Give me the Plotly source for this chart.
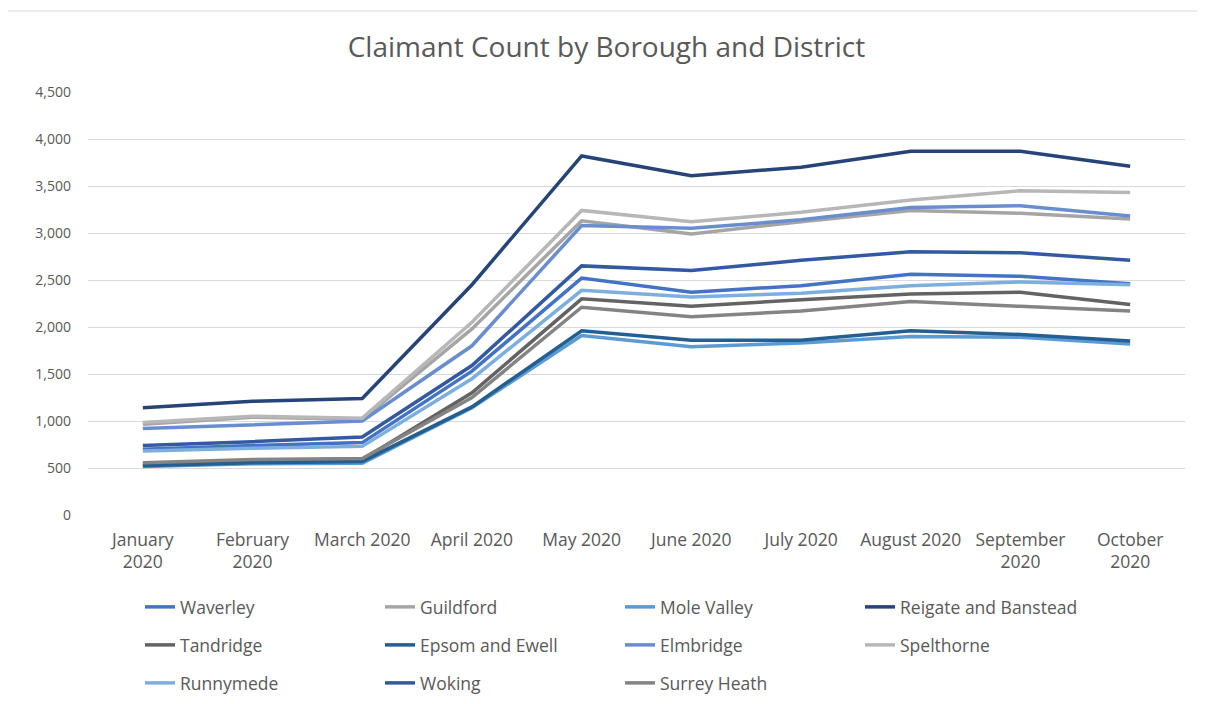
import plotly.graph_objects as go

months = ["January 2020", "February 2020", "March 2020", "April 2020", "May 2020",
          "June 2020", "July 2020", "August 2020", "September 2020", "October 2020"]
tick_text = ["January<br>2020", "February<br>2020", "March 2020", "April 2020", "May 2020",
             "June 2020", "July 2020", "August 2020", "September<br>2020", "October<br>2020"]

waverley = [700, 740, 770, 1530, 2520, 2370, 2440, 2560, 2540, 2460]
guildford = [965, 1040, 1020, 1980, 3130, 2990, 3120, 3240, 3210, 3150]
mole_valley = [515, 545, 550, 1140, 1910, 1790, 1830, 1900, 1890, 1820]
reigate = [1140, 1210, 1240, 2450, 3820, 3610, 3700, 3870, 3870, 3710]
tandridge = [540, 580, 590, 1300, 2300, 2220, 2290, 2350, 2370, 2240]
epsom = [525, 555, 570, 1150, 1960, 1860, 1860, 1960, 1920, 1850]
elmbridge = [920, 960, 1000, 1800, 3080, 3050, 3140, 3270, 3290, 3180]
spelthorne = [985, 1050, 1030, 2050, 3240, 3120, 3220, 3350, 3450, 3430]
runnymede = [680, 710, 730, 1450, 2390, 2320, 2360, 2440, 2480, 2450]
woking = [740, 780, 830, 1590, 2650, 2600, 2710, 2800, 2790, 2710]
surrey_heath = [555, 590, 600, 1250, 2210, 2110, 2170, 2270, 2220, 2170]

series = [
    ("Waverley", waverley, "#4472C4", "legend"),
    ("Guildford", guildford, "#A5A5A5", "legend"),
    ("Mole Valley", mole_valley, "#5B9BD5", "legend"),
    ("Reigate and Banstead", reigate, "#264478", "legend"),
    ("Tandridge", tandridge, "#636363", "legend2"),
    ("Epsom and Ewell", epsom, "#255E91", "legend2"),
    ("Elmbridge", elmbridge, "#698ED0", "legend2"),
    ("Spelthorne", spelthorne, "#B7B7B7", "legend2"),
    ("Runnymede", runnymede, "#7CAFDD", "legend3"),
    ("Woking", woking, "#335AA1", "legend3"),
    ("Surrey Heath", surrey_heath, "#848484", "legend3"),
]

FONT = "Open Sans"
TXT = "#595959"

fig = go.Figure()
for name, vals, color, leg in series:
    fig.add_trace(go.Scatter(
        x=months, y=vals, name=name, mode="lines",
        line=dict(color=color, width=3.5),
        legend=leg,
    ))

# page body has an 8px margin; work in figure coordinates = screen - 8
OFF = 8
W, H = 1205 - OFF, 704 - OFF
L, R, T, B = 88 - OFF, 1205 - 1185, 92 - OFF, 704 - 515
pw, ph = W - L - R, H - T - B

def px_x(p):  # screen px -> paper x
    return (p - OFF - L) / pw

def px_y(p):  # screen px -> paper y
    return (H - B - (p - OFF)) / ph

leg_common = dict(orientation="h", xanchor="left", yanchor="middle",
                  entrywidth=195, entrywidthmode="pixels",
                  font=dict(family=FONT, size=17.5, color=TXT),
                  bgcolor="rgba(0,0,0,0)", x=px_x(140))

fig.update_layout(
    width=W, height=H,
    margin=dict(l=L, r=R, t=T, b=B, autoexpand=False),
    paper_bgcolor="white", plot_bgcolor="white",
    font=dict(family=FONT, color=TXT),
    title=dict(text="Claimant Count by Borough and District",
               x=0.5, xanchor="center", xref="container",
               y=1 - (47 - OFF) / H, yanchor="middle", yref="container",
               font=dict(family=FONT, size=28, color=TXT)),
    legend=dict(y=px_y(607), **leg_common),
    legend2=dict(y=px_y(645), **leg_common),
    legend3=dict(y=px_y(683), **leg_common),
    xaxis=dict(type="category", range=[-0.5, 9.5], tickvals=months, ticktext=tick_text,
               showgrid=False, showline=False, zeroline=False, ticks="",
               ticklabelstandoff=12,
               tickfont=dict(family=FONT, size=17.5, color=TXT)),
    yaxis=dict(range=[0, 4500], dtick=500, tickformat=",d",
               showgrid=True, gridcolor="#D9D9D9", gridwidth=1,
               zeroline=False, showline=False, ticks="", ticklabelstandoff=16,
               tickfont=dict(family=FONT, size=14, color=TXT)),
    shapes=[dict(type="rect", xref="paper", yref="paper",
                 x0=px_x(-20), x1=px_x(1225), y0=px_y(730), y1=px_y(11),
                 line=dict(color="#D9D9D9", width=1), fillcolor="rgba(0,0,0,0)",
                 layer="below")],
)

fig.write_html("out.html")
